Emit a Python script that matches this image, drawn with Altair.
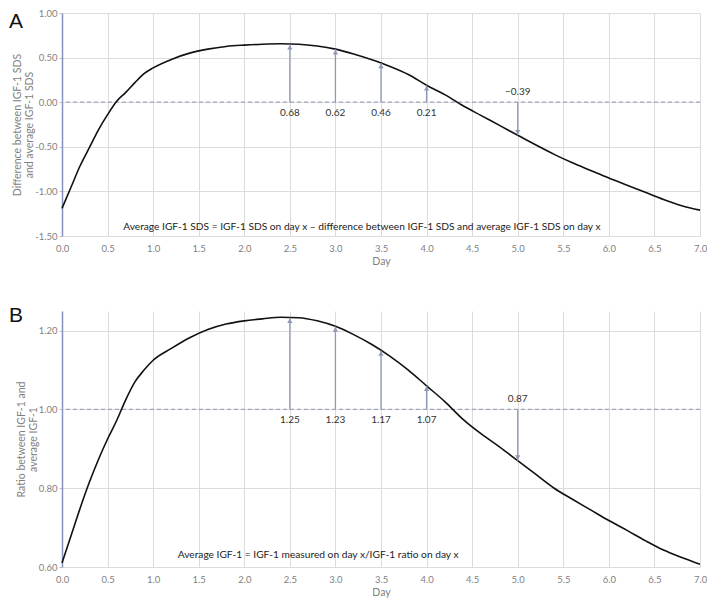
import altair as alt
import pandas as pd

# ---- Panel A data ----
a_days = [0.0, 0.1, 0.2, 0.3, 0.4, 0.5, 0.6, 0.7, 0.8, 0.9, 1.0, 1.2, 1.4, 1.6, 1.8, 2.0,
          2.2, 2.4, 2.6, 2.8, 3.0, 3.2, 3.4, 3.6, 3.8, 4.0, 4.2, 4.4, 4.6, 4.8, 5.0,
          5.2, 5.4, 5.6, 5.8, 6.0, 6.2, 6.4, 6.6, 6.8, 7.0]
a_vals = [-1.19, -0.95, -0.71, -0.51, -0.31, -0.14, 0.01, 0.11, 0.22, 0.32, 0.385, 0.48,
          0.55, 0.595, 0.625, 0.64, 0.65, 0.655, 0.65, 0.63, 0.595, 0.54, 0.475, 0.40,
          0.31, 0.19, 0.085, -0.04, -0.15, -0.26, -0.37, -0.48, -0.585, -0.68, -0.765,
          -0.85, -0.93, -1.01, -1.09, -1.16, -1.21]
a_arrow_days = [2.5, 3.0, 3.5, 4.0, 5.0]
a_arrow_ends = [0.65, 0.595, 0.44, 0.19, -0.37]
a_arrow_labels = ["0.68", "0.62", "0.46", "0.21", "\u22120.39"]
a_arrow_dir = ["up", "up", "up", "up", "down"]
a_baseline = 0.0
a_yticks = [-1.5, -1.0, -0.5, 0.0, 0.5, 1.0]
a_title = ["Difference between IGF-1 SDS", "and average IGF-1 SDS"]
a_note = "Average IGF-1 SDS = IGF-1 SDS on day x \u2013 difference between IGF-1 SDS and average IGF-1 SDS on day x"
a_note_pos = [3.29, -1.40]

# ---- Panel B data ----
b_days = [0.0, 0.1, 0.2, 0.3, 0.4, 0.5, 0.6, 0.7, 0.8, 0.9, 1.0, 1.2, 1.4, 1.6, 1.8, 2.0,
          2.2, 2.4, 2.6, 2.8, 3.0, 3.2, 3.4, 3.6, 3.8, 4.0, 4.2, 4.4, 4.6, 4.8, 5.0,
          5.2, 5.4, 5.6, 5.8, 6.0, 6.2, 6.4, 6.6, 6.8, 7.0]
b_vals = [0.61, 0.68, 0.75, 0.815, 0.873, 0.925, 0.972, 1.025, 1.07, 1.10, 1.125, 1.155,
          1.182, 1.203, 1.217, 1.225, 1.23, 1.234, 1.233, 1.225, 1.211, 1.19, 1.165,
          1.135, 1.10, 1.06, 1.02, 0.975, 0.938, 0.905, 0.87, 0.835, 0.80, 0.772, 0.745,
          0.718, 0.693, 0.667, 0.643, 0.624, 0.607]
b_arrow_days = [2.5, 3.0, 3.5, 4.0, 5.0]
b_arrow_ends = [1.233, 1.211, 1.15, 1.06, 0.87]
b_arrow_labels = ["1.25", "1.23", "1.17", "1.07", "0.87"]
b_arrow_dir = ["up", "up", "up", "up", "down"]
b_baseline = 1.0
b_yticks = [0.6, 0.8, 1.0, 1.2]
b_title = ["Ratio between IGF-1 and", "average IGF-1"]
b_note = "Average IGF-1 = IGF-1 measured on day x/IGF-1 ratio on day x"
b_note_pos = [2.81, 0.63]

x_ticks = [i * 0.5 for i in range(15)]

FONT = "Lato"
ARROW = "#8e99b4"
DASH = "#9ea7ba"


def panel(days, vals, ad, ae, al, adir, base, ydom, yticks, ytitle, note, npos,
          letter, width, height, letter_y):
    curve = pd.DataFrame({"day": days, "val": vals})
    arr = pd.DataFrame({"day": ad, "end": ae, "lab": al, "dir": adir, "base": base})
    notes = pd.DataFrame({"day": [npos[0]], "val": [npos[1]], "txt": [note]})
    basedf = pd.DataFrame({"base": [base]})

    xenc = alt.X("day:Q", scale=alt.Scale(domain=[0, 7], nice=False),
                 axis=alt.Axis(values=x_ticks, format=".1f", title="Day", ticks=False,
                               domain=False, labelPadding=7, titlePadding=4,
                               labelFlush=False, labelOverlap=False,
                               titleAnchor="middle"))
    yscale = alt.Scale(domain=ydom, nice=False, zero=False)
    yaxis = alt.Axis(values=yticks, title=ytitle,
                     labelExpr="replace(format(datum.value, '.2f'), '\u2212', '-')",
                     domain=True, domainColor="#8791bd", domainWidth=1.5,
                     ticks=True, tickSize=3, tickColor="#bfbfbf",
                     labelPadding=2, titlePadding=0, labelFlush=False)

    base_rule = alt.Chart(basedf).mark_rule(color=DASH, strokeDash=[4, 3],
                                            strokeWidth=1.2).encode(
        y=alt.Y("base:Q", scale=yscale, axis=yaxis))
    line = alt.Chart(curve).mark_line(color="#111111", strokeWidth=1.6,
                                      interpolate="monotone").encode(
        x=xenc, y=alt.Y("val:Q", scale=yscale, axis=yaxis))
    shafts = alt.Chart(arr).mark_rule(color=ARROW, strokeWidth=1.3).encode(
        x="day:Q", y="base:Q", y2="end:Q")
    heads_up = alt.Chart(arr).transform_filter(alt.datum.dir == "up").mark_point(
        shape="triangle-up", filled=True, size=28, color=ARROW, opacity=1,
        yOffset=3).encode(x="day:Q", y="end:Q")
    heads_dn = alt.Chart(arr).transform_filter(alt.datum.dir == "down").mark_point(
        shape="triangle-down", filled=True, size=28, color=ARROW, opacity=1,
        yOffset=-3).encode(x="day:Q", y="end:Q")
    lab_up = alt.Chart(arr).transform_filter(alt.datum.dir == "up").mark_text(
        font=FONT, fontSize=10, color="#333333", dy=11).encode(
        x="day:Q", y="base:Q", text="lab:N")
    lab_dn = alt.Chart(arr).transform_filter(alt.datum.dir == "down").mark_text(
        font=FONT, fontSize=10, color="#333333", dy=-10).encode(
        x="day:Q", y="base:Q", text="lab:N")
    note_t = alt.Chart(notes).mark_text(font=FONT, fontSize=10.2, color="#222222").encode(
        x="day:Q", y="val:Q", text="txt:N")
    letter_t = alt.Chart(basedf).mark_text(font="Liberation Sans", fontSize=21,
                                           color="#111111", align="center",
                                           baseline="top").encode(
        x=alt.value(-46), y=alt.value(letter_y), text=alt.value(letter))

    return alt.layer(base_rule, line, shafts, heads_up, heads_dn, lab_up, lab_dn,
                     note_t, letter_t).properties(width=width, height=height)


pa = panel(a_days, a_vals, a_arrow_days, a_arrow_ends, a_arrow_labels, a_arrow_dir,
           a_baseline, [-1.5, 1.0], a_yticks, a_title, a_note, a_note_pos, "A", 638, 223, -2)
pb = panel(b_days, b_vals, b_arrow_days, b_arrow_ends, b_arrow_labels, b_arrow_dir,
           b_baseline, [0.6, 1.25], b_yticks, b_title, b_note, b_note_pos, "B", 638, 256, -6)

chart = alt.vconcat(pa, pb, spacing=38).properties(padding=0).configure_view(
    stroke=None).configure_axis(
    labelFont=FONT, labelFontSize=9.5, labelColor="#7f7f7f",
    titleFont=FONT, titleFontSize=10.5, titleColor="#7f7f7f", titleFontWeight="normal",
    titleLineHeight=12, gridColor="#dcdcdc", gridWidth=1)

chart.save("out.html", embed_options={"renderer": "svg", "actions": False})
